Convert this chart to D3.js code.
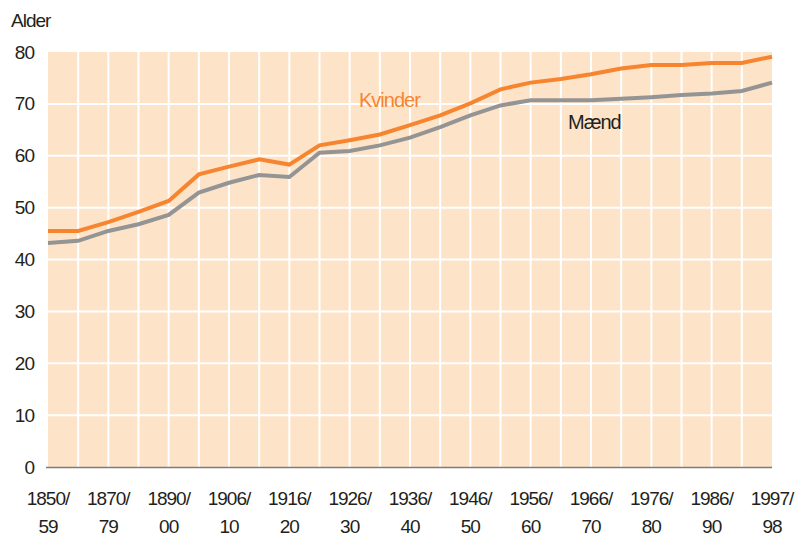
<!DOCTYPE html>
<html>
<head>
<meta charset="utf-8">
<script src="https://cdn.jsdelivr.net/npm/d3@7"></script>
<style>
  body { margin: 0; background: #fff; }
  text { font-family: "Liberation Sans", Arial, sans-serif; fill: #231f20; }
</style>
</head>
<body>
<script>
// periods (every other one is labelled on the axis)
var periods = ["1850/59", "1860/69", "1870/79", "1880/89", "1890/00", "1901/05",
    "1906/10", "1911/15", "1916/20", "1921/25", "1926/30", "1931/35", "1936/40",
    "1941/45", "1946/50", "1951/55", "1956/60", "1961/65", "1966/70", "1971/75",
    "1976/80", "1981/85", "1986/90", "1991/95", "1997/98"];
var kvinder = [45.5, 45.5, 47.2, 49.2, 51.3, 56.4, 57.9, 59.3, 58.3, 62.0, 63.0, 64.1,
    65.9, 67.8, 70.1, 72.8, 74.1, 74.8, 75.7, 76.8, 77.5, 77.5, 77.9, 77.9, 79.1];
var maend = [43.2, 43.6, 45.5, 46.8, 48.6, 52.9, 54.8, 56.3, 55.9, 60.6, 60.9, 62.0,
    63.5, 65.5, 67.8, 69.7, 70.7, 70.7, 70.7, 71.0, 71.3, 71.7, 72.0, 72.5, 74.1];
var yTicks = [0, 10, 20, 30, 40, 50, 60, 70, 80];

var w = 798, h = 534;
var plotLeft = 48, plotRight = 772, plotTop = 52, plotBottom = 467;

var svg = d3.select("body").append("svg")
    .attr("width", w)
    .attr("height", h);

var xScale = d3.scalePoint()
    .domain(periods)
    .range([plotLeft, plotRight]);
var yScale = d3.scaleLinear()
    .domain([0, 80])
    .range([plotBottom, plotTop]);

// background
svg.append("rect")
    .attr("x", plotLeft)
    .attr("y", plotTop)
    .attr("width", plotRight - plotLeft)
    .attr("height", plotBottom - plotTop)
    .attr("fill", "#fde4c9");

// white grid
svg.selectAll("line.vgrid")
    .data(periods.slice(1, -1))
    .enter()
    .append("line")
    .attr("class", "vgrid")
    .attr("x1", function (d) { return xScale(d); })
    .attr("x2", function (d) { return xScale(d); })
    .attr("y1", plotTop)
    .attr("y2", plotBottom)
    .attr("stroke", "#fff")
    .attr("stroke-width", 2);
svg.selectAll("line.hgrid")
    .data(yTicks.slice(1, -1))
    .enter()
    .append("line")
    .attr("class", "hgrid")
    .attr("x1", plotLeft)
    .attr("x2", plotRight)
    .attr("y1", function (d) { return yScale(d); })
    .attr("y2", function (d) { return yScale(d); })
    .attr("stroke", "#fff")
    .attr("stroke-width", 2);

// y axis
var yAxis = svg.append("g")
    .attr("transform", "translate(" + (plotLeft - 14) + ",0)")
    .call(d3.axisLeft(yScale).tickValues(yTicks).tickSize(0).tickPadding(0));
yAxis.select(".domain").remove();
yAxis.attr("font-family", null).attr("font-size", null);
yAxis.selectAll("text")
    .attr("font-size", "19px")
    .attr("letter-spacing", "-1px")
    .attr("fill", "#231f20");

// baseline
svg.append("line")
    .attr("x1", plotLeft - 2)
    .attr("x2", plotRight)
    .attr("y1", plotBottom + 0.5)
    .attr("y2", plotBottom + 0.5)
    .attr("stroke", "#7d7b7b")
    .attr("stroke-width", 1.5);

// x labels, two lines each
var labelled = periods.filter(function (d, i) { return i % 2 === 0; });
var xl = svg.selectAll("text.xlab")
    .data(labelled)
    .enter()
    .append("text")
    .attr("class", "xlab")
    .attr("text-anchor", "middle")
    .attr("font-size", "19px")
    .attr("letter-spacing", "-1px");
xl.append("tspan")
    .attr("x", function (d) { return xScale(d); })
    .attr("y", 505)
    .text(function (d) { return d.split("/")[0] + "/"; });
xl.append("tspan")
    .attr("x", function (d) { return xScale(d); })
    .attr("y", 533)
    .text(function (d) { return d.split("/")[1]; });

svg.append("text")
    .attr("x", 11)
    .attr("y", 27)
    .attr("font-size", "19px")
    .attr("letter-spacing", "-1px")
    .text("Alder");

// lines
var line = d3.line()
    .x(function (d, i) { return xScale(periods[i]); })
    .y(function (d) { return yScale(d); });

svg.append("path")
    .datum(maend)
    .attr("d", line)
    .attr("fill", "none")
    .attr("stroke", "#949494")
    .attr("stroke-width", 4);
svg.append("path")
    .datum(kvinder)
    .attr("d", line)
    .attr("fill", "none")
    .attr("stroke", "#f7852f")
    .attr("stroke-width", 4);

// series labels
svg.append("text")
    .attr("x", 359)
    .attr("y", 107)
    .attr("font-size", "20px")
    .attr("letter-spacing", "-1px")
    .style("fill", "#f7852f")
    .text("Kvinder");
svg.append("text")
    .attr("x", 568)
    .attr("y", 129)
    .attr("font-size", "20px")
    .attr("letter-spacing", "-1px")
    .text("Mænd");
</script>
</body>
</html>
